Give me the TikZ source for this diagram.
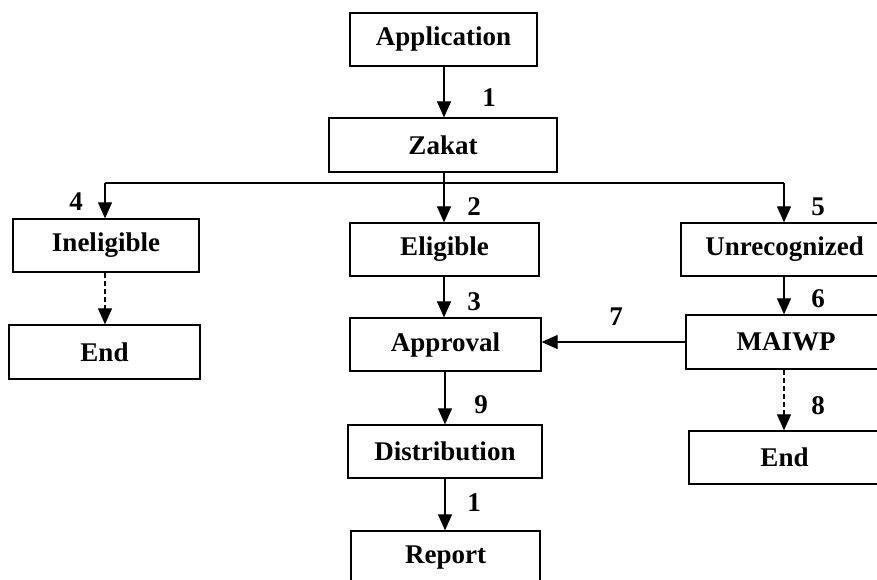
\documentclass[tikz,border=0pt]{standalone}
\usepackage{fontspec}
\setmainfont{Liberation Serif}
\usetikzlibrary{arrows.meta}
\begin{document}
\begin{tikzpicture}[x=1pt,y=-1pt,
  box/.style={draw,line width=1.3pt,inner sep=0pt,minimum height=53pt,font=\fontsize{27}{32}\selectfont\bfseries},
  lab/.style={inner sep=0pt,font=\fontsize{27}{32}\selectfont\bfseries},
  arr/.style={line width=1.2pt,-{Triangle[length=16pt,width=14pt]}},
  darr/.style={arr,dash pattern=on 5pt off 3pt}]
\useasboundingbox (0,0) rectangle (877,579);
\clip (0,0) rectangle (877,579);
\node[box,minimum width=187pt] (app) at (443.5,39.5) {Application};
\node[box,minimum width=228pt,minimum height=54pt] (zakat) at (443,145) {Zakat};
\node[box,minimum width=186pt] (inel) at (106,245.5) {Ineligible};
\node[box,minimum width=191pt,minimum height=54pt] (endL) at (104.5,352) {End};
\node[box,minimum width=189pt] (elig) at (444.5,249.5) {Eligible};
\node[box,minimum width=191pt] (appr) at (445.5,344.5) {Approval};
\node[box,minimum width=194pt] (dist) at (445,451.5) {Distribution};
\node[box,minimum width=189pt] (report) at (445.5,557.5) {Report};
\node[box,minimum width=207pt] (unrec) at (784.5,249.5) {Unrecognized};
\node[box,minimum width=200pt,minimum height=54pt] (maiwp) at (786,342) {MAIWP};
\node[box,minimum width=191pt] (endR) at (784.5,457.5) {End};
\coordinate (hl) at (105,183);
\coordinate (hr) at (784,183);
\coordinate (vc) at (444,183);
\draw[arr] (app.south -| vc) -- (zakat.north -| vc);
\draw[line width=1.2pt] (hl) -- (hr);
\draw[arr] (zakat.south -| vc) -- (elig.north -| vc);
\draw[arr] (hl) -- (hl |- inel.north);
\draw[arr] (hr) -- (hr |- unrec.north);
\draw[darr] (inel.south -| hl) -- (endL.north -| hl);
\draw[arr] (elig.south -| vc) -- (appr.north -| vc);
\draw[arr] (unrec.south -| hr) -- (maiwp.north -| hr);
\draw[arr] (maiwp.west) -- (maiwp.west -| appr.east);
\draw[darr] (maiwp.south -| hr) -- (endR.north -| hr);
\draw[arr] (appr.south -| dist.north) -- (dist.north);
\draw[arr] (dist.south) -- (dist.south |- report.north);
\node[lab] (l1) at (489,98) {1};
\node[lab] (l2) at (474,207) {2};
\node[lab] (l3) at (474,302) {3};
\node[lab] (l4) at (76,202) {4};
\node[lab] (l5) at (818,207) {5};
\node[lab] (l6) at (818,299) {6};
\node[lab] (l7) at (616,317) {7};
\node[lab] (l8) at (818,406) {8};
\node[lab] (l9) at (481,405) {9};
\node[lab] (l10) at (474,503) {1};
\end{tikzpicture}
\end{document}
